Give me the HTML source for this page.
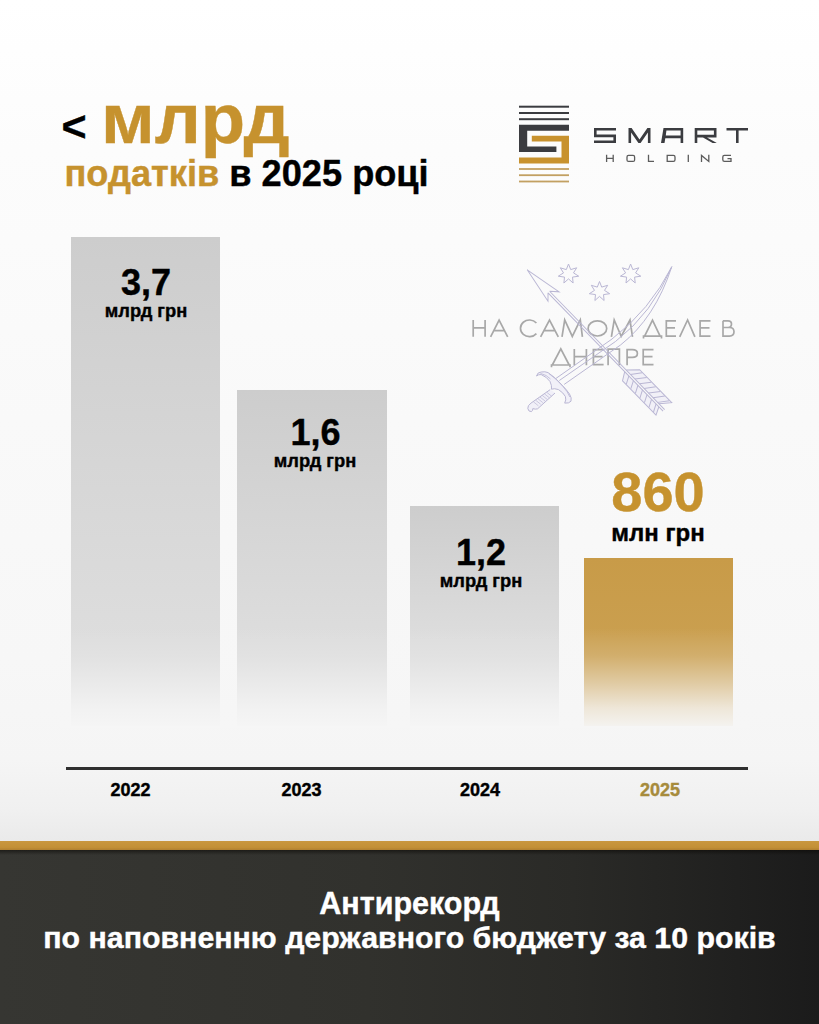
<!DOCTYPE html>
<html><head><meta charset="utf-8">
<style>
html,body{margin:0;padding:0;}
body{width:819px;height:1024px;position:relative;overflow:hidden;font-family:"Liberation Sans",sans-serif;
background:linear-gradient(to bottom,#ffffff 0px,#fcfcfc 150px,#f9f9f9 420px,#f7f7f7 660px,#f5f5f5 760px,#f0f0f0 810px,#eaeaea 841px);}
.a{position:absolute;white-space:nowrap;line-height:1;}
.b{font-weight:bold;-webkit-text-stroke:0.4px currentColor;}
.gold{color:#c6922e;}
.bar{position:absolute;top:0;}
.gray{background:linear-gradient(to bottom,#cdcdcd 0%,#d6d6d6 40%,#dfdfdf 65%,#ececec 85%,#f5f5f5 100%);}
.lbl{position:absolute;font-weight:bold;color:#000;text-align:center;width:200px;line-height:1;-webkit-text-stroke:0.4px currentColor;}
#foot{position:absolute;left:0;top:850px;width:819px;height:174px;background:linear-gradient(to right,#363632 0%,#31312d 45%,#2a2a27 70%,#1b1b1b 100%);}
#band{position:absolute;left:0;top:841.3px;width:819px;height:8.7px;background:linear-gradient(to bottom,#c9973f,#c39036 70%,#b08030);}
</style></head>
<body>
<div class="a b" style="left:61.5px;top:105px;font-size:43px;">&lt;</div>
<div class="a b gold" style="left:101px;top:84px;font-size:70.5px;transform:scaleX(1.03);transform-origin:0 0;">млрд</div>
<div class="a b" style="left:64.5px;top:155.8px;font-size:36.2px;"><span class="gold">податків</span> в 2025 році</div>

<div class="bar" style="left:71px;top:237px;width:149px;height:489px;background:linear-gradient(to bottom,#cdcdcd 0px,#dddddd 403px);"></div>
<div class="bar" style="left:237px;top:390px;width:150px;height:336px;background:linear-gradient(to bottom,#cdcdcd 0px,#dddddd 250px);"></div>
<div class="bar" style="left:410px;top:506px;width:149px;height:220px;background:linear-gradient(to bottom,#cdcdcd 0px,#dddddd 134px);"></div>
<div class="bar" style="left:583.5px;top:558px;width:149px;height:168px;background:linear-gradient(to bottom,#c89b48 0px,#ca9f4f 80px);"></div>
<div class="bar" style="left:60px;top:628px;width:690px;height:100px;background:linear-gradient(to bottom,rgba(246,246,246,0) 0%,rgba(246,246,246,0.18) 28%,rgba(246,246,246,0.5) 55%,rgba(246,246,246,0.82) 80%,rgba(246,246,246,0.96) 98%,rgba(246,246,246,1) 100%);"></div>
<div class="lbl" style="left:46px;top:265px;font-size:36px;">3,7</div>
<div class="lbl" style="left:46px;top:302.2px;font-size:18.3px;">млрд грн</div>
<div class="lbl" style="left:215.5px;top:415px;font-size:36px;">1,6</div>
<div class="lbl" style="left:215px;top:452px;font-size:18.3px;">млрд грн</div>
<div class="lbl" style="left:381px;top:535px;font-size:36px;">1,2</div>
<div class="lbl" style="left:381px;top:572px;font-size:18.3px;">млрд грн</div>
<div class="lbl" style="left:558px;top:464px;font-size:56px;color:#c6922e;">860</div>
<div class="lbl" style="left:558px;top:520.7px;font-size:24px;">млн грн</div>

<div style="position:absolute;left:66px;top:767.4px;width:682px;height:2.6px;background:#2f2f2f;"></div>
<div class="lbl" style="left:30.5px;top:780.7px;font-size:18px;">2022</div>
<div class="lbl" style="left:201.5px;top:780.7px;font-size:18px;">2023</div>
<div class="lbl" style="left:380px;top:780.7px;font-size:18px;">2024</div>
<div class="lbl" style="left:560px;top:780.7px;font-size:18px;color:#a68b3c;">2025</div>

<svg style="position:absolute;left:0;top:0" width="819" height="1024" viewBox="0 0 819 1024">
<!-- watermark -->
<g fill="none" stroke="#a8a8a8" stroke-width="1.7" stroke-linejoin="miter">
<path d="M473.2,320 V336.8 M485.1,320 V336.8 M473.2,327.8 H485.1"/>
<path d="M490.6,336.8 L499.1,320 L507.7,336.8 M494.3,330.6 H504"/>
<path d="M536.4,323 A9,8.3 0 1 0 536.4,333.6"/>
<path d="M540.6,336.8 L549.5,320 L558.3,336.8 M544.3,330.6 H554.6"/>
<path d="M562,336.8 L564.7,320 L572.3,336.4 L580.3,320 L582.4,336.8"/>
<ellipse cx="597.4" cy="328.4" rx="9.3" ry="7.6"/>
<path d="M611.4,336.8 L614.2,320 L621.2,336.4 L630,320 L632.5,336.8"/>
<path d="M644.6,336.1 L652.5,320.2 L660.1,336.1 M643.5,338.5 V336.1 H661.5 V338.5"/>
<path d="M676,320.8 H666.3 V336.1 H676 M666.3,327.8 H675"/>
<path d="M679.7,336.8 L687.6,320 L694.9,336.8"/>
<path d="M710.5,320.8 H700.1 V336.1 H710.5 M700.1,327.8 H709.5"/>
<path d="M723,320.8 V336.1 H729.5 Q734,336.1 734,331.8 Q734,327.5 729.5,327.5 H723 M723,320.8 H728 Q731.5,320.8 731.5,324.1 Q731.5,327.5 728,327.5"/>
<path d="M552.3,365 L560.8,348.9 L569.2,365 M551.5,367.2 V365 H570 V367.2"/>
<path d="M574.3,349 V365.2 M586.4,349 V365.2 M574.3,356.6 H586.4"/>
<path d="M603.6,349.6 H593.4 V364.6 H603.6 M593.4,356.6 H602.6"/>
<path d="M608.1,365.2 V349.2 H619.4 V365.2"/>
<path d="M627.1,365.2 V349.6 H632.4 Q637.4,349.6 637.4,353.4 Q637.4,357.3 632.4,357.3 H627.1"/>
<path d="M653.5,349.6 H643.2 V364.6 H653.5 M643.2,356.6 H652.5"/>
</g>
<g fill="none" stroke="#bab7d4" stroke-width="1">
<path d="M568.5,264.0 L570.7,269.6 L576.7,267.8 L573.5,272.9 L578.7,276.2 L572.5,277.1 L573.1,283.0 L568.5,278.9 L563.9,283.0 L564.5,277.1 L558.3,276.2 L563.5,272.9 L560.3,267.8 L566.3,269.6Z"/>
<path d="M599.5,281.5 L601.7,287.1 L607.7,285.3 L604.5,290.4 L609.7,293.7 L603.5,294.6 L604.1,300.5 L599.5,296.4 L594.9,300.5 L595.5,294.6 L589.3,293.7 L594.5,290.4 L591.3,285.3 L597.3,287.1Z"/>
<path d="M630.6,264.0 L632.8,269.6 L638.8,267.8 L635.6,272.9 L640.8,276.2 L634.6,277.1 L635.2,283.0 L630.6,278.9 L626.0,283.0 L626.6,277.1 L620.4,276.2 L625.6,272.9 L622.4,267.8 L628.4,269.6Z"/>
<!-- arrow -->
<g transform="translate(527.2,269.8) rotate(45.8)">
<path d="M141,-1.1 L150,-11 H196 L188,-1.1 Z" fill="#f1f0f7" stroke="none"/>
<path d="M141,1.1 L146,9 H194 L190,1.1 Z" fill="#f1f0f7" stroke="none"/>
<path d="M0,0 L38,-7.5 L31,-1.1 M0,0 L37,7 L31,1.1 M31,-1.1 H196 M31,1.1 H196"/>
<path d="M141,-1.1 L150,-11 H196 L188,-1.1"/>
<path d="M141,1.1 L146,9 H194 L190,1.1"/>
<path d="M147.0,-1.1 L154.0,-10.6 M153.5,-1.1 L160.5,-10.6 M160.0,-1.1 L167.0,-10.6 M166.5,-1.1 L173.5,-10.6 M173.0,-1.1 L180.0,-10.6 M179.5,-1.1 L186.5,-10.6 M186.0,-1.1 L193.0,-10.6"/>
<path d="M147.0,1.1 L151.0,8.6 M153.5,1.1 L157.5,8.6 M160.0,1.1 L164.0,8.6 M166.5,1.1 L170.5,8.6 M173.0,1.1 L177.0,8.6 M179.5,1.1 L183.5,8.6 M186.0,1.1 L190.0,8.6"/>
</g>
<!-- saber -->
<path d="M556,378.4 L612,339 Q650,310 671.8,266.7"/>
<path d="M559.3,380.5 L615.5,341.5 Q652.5,313 671.8,266.7"/>
<path d="M564.2,384.4 L620.5,345 Q655,318 671.8,266.7"/>
<path fill="#f1f0f8" d="M536.5,376 Q537.5,372 541.2,372 Q545,371.2 548,372.6 Q555,377 561,384 Q566.5,389.5 569.5,394 Q572,398 571,401.2 Q569,403.6 564.7,403.1 Q566.5,400 565.4,396.5 Q563.5,392.8 558.5,389.6 Q554,388 551.5,389.2 Q552,385.5 550,381.5 Q547,377 541.2,374.6 Q538.5,374.2 536.5,376 Z"/>
<path fill="#f1f0f8" d="M550.2,389.6 L531,403.1 Q527.5,405.5 527.8,408.5 Q528.5,412 531.5,411.6 Q533,410.5 532.8,408.6 Q535.5,409.6 537.6,408.8 L555,393"/>
<path d="M540.5,373.4 Q546.5,374.8 550.5,379 M549,373.6 Q557,379.5 563,386.5 Q568,392 569.8,397" stroke-width="0.8"/>
<path d="M546.6,392.2 L551.6,396.2 M544.4,393.8 L549.4,397.8 M542.2,395.4 L547.2,399.4 M540,397 L545,401 M537.8,398.6 L542.8,402.6 M535.6,400.2 L540.6,404.2 M533.4,401.8 L538.4,405.8" stroke-width="0.7"/>
</g>
<!-- logo -->
<g fill="#3b3c40">
<rect x="519" y="105.7" width="50" height="2"/>
<rect x="519" y="112" width="50" height="2"/>
<rect x="519" y="118.2" width="50" height="2"/>
<path d="M519,124.7 H569 V130.7 H527.2 V146.5 H556.4 V152 H519 Z"/>
</g>
<g fill="#c8922e">
<path d="M531.8,135.8 H569 V163.6 H519 V157.6 H561.5 V141.4 H531.8 Z"/>
</g>
<g fill="#c2a062">
<rect x="519" y="168.1" width="50" height="1.8"/>
<rect x="519" y="174.3" width="50" height="1.8"/>
<rect x="519" y="180.6" width="50" height="1.8"/>
</g>
<g fill="#3b3c40">
<path d="M594,128 H616 V130.6 H596.6 V134.6 H616 V143 H594 V140.4 H613.4 V137.2 H594 Z"/>
<path d="M628.5,143 V128 H631.6 L639.5,139.5 L647.4,128 H650.5 V143 H647.9 V132.5 L640.6,143 H638.4 L631.1,132.5 V143 Z"/>
<path d="M661,143 L663.5,128 H683.2 V143 H680.6 V138.2 H665.3 L664.5,143 Z M665.8,135.6 H680.6 V130.6 H666.4 Z"/>
<path d="M694.7,143 V128 H716.5 V137.4 H707 L716.8,143 H712.6 L703,137.4 H697.3 V143 Z M697.3,134.8 H713.9 V130.6 H697.3 Z"/>
<path d="M726.5,128 H748 V130.6 H738.6 V143 H736 V130.6 H726.5 Z"/>
</g>
<g fill="none" stroke="#5c5c5c" stroke-width="1.3">
<path d="M606.6,154.8 V162 M613.2,154.8 V162 M606.6,158.4 H613.2"/>
<rect x="627" y="155.4" width="7.6" height="6" rx="1.5"/>
<path d="M648.5,154.8 V161.4 H654"/>
<path d="M667.2,155.4 H673.4 Q675,155.4 675,157 V159.8 Q675,161.4 673.4,161.4 H667.2 Z"/>
<path d="M688.3,154.8 V162"/>
<path d="M701.5,162 V155.4 L708.8,161.4 V154.8"/>
<path d="M731,155.4 H724.4 Q722.8,155.4 722.8,157 V159.8 Q722.8,161.4 724.4,161.4 H731 V158.6 H727.5"/>
</g>
</svg>
<div id="band"></div>
<div id="foot"><div style="position:absolute;left:0;top:0;width:819px;height:5px;background:linear-gradient(to bottom,rgba(10,8,5,0.55),rgba(10,8,5,0));"></div>
<div class="lbl" style="left:0;width:819px;top:37.7px;font-size:30.5px;color:#fff;">Антирекорд</div>
<div class="lbl" style="left:0;width:819px;top:73.3px;font-size:30.3px;color:#fff;">по наповненню державного бюджету за 10 років</div>
</div>
</body></html>
